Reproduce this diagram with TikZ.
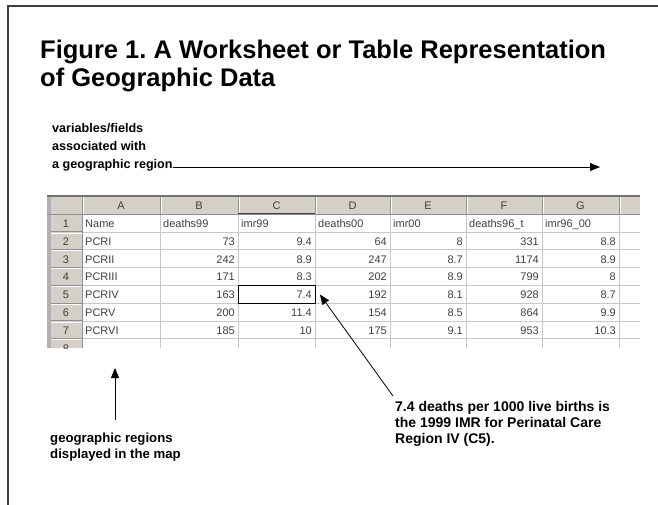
\documentclass[tikz,border=0pt]{standalone}
\usepackage{fontspec}
\setmainfont{Liberation Sans}
\usetikzlibrary{arrows.meta}
\definecolor{hdr}{HTML}{D4D0C8}
\definecolor{gridc}{HTML}{C8C8C8}
\definecolor{hdrline}{HTML}{909090}
\definecolor{celltxt}{HTML}{404040}
\definecolor{framec}{HTML}{404040}
\frenchspacing
\begin{document}
\begin{tikzpicture}[x=1pt,y=-1pt,
  title/.style={anchor=base west, inner sep=0pt, font=\fontsize{25.5}{30}\selectfont\bfseries},
  lbl/.style={anchor=base west, inner sep=0pt, font=\fontsize{12.6}{16}\selectfont\bfseries},
  lblb/.style={anchor=base west, inner sep=0pt, font=\fontsize{13.2}{16}\selectfont\bfseries},
  lblc/.style={anchor=base west, inner sep=0pt, font=\fontsize{14}{16}\selectfont\bfseries},
  cellL/.style={anchor=base west, inner sep=0pt, text=celltxt, font=\fontsize{11}{13}\selectfont},
  cellR/.style={anchor=base east, inner sep=0pt, text=celltxt, font=\fontsize{11}{13}\selectfont},
  hd/.style={anchor=base, inner sep=0pt, text=celltxt, font=\fontsize{11}{13}\selectfont},
  arr/.style={-{Triangle[length=10pt,width=8pt]}, line width=0.8pt},
]
\useasboundingbox (0,0) rectangle (658,504);
\fill[white] (0,0) rectangle (658,504);
% frame
\draw[framec, line width=1.3pt] (8,520) -- (8,6) -- (670,6);
% title
\node[title] (t1) at (40,58) {Figure 1. A Worksheet or Table Representation};
\node[title] (t2) at (40,86) {of Geographic Data};
% top labels
\node[lbl] (v1) at (52,132) {variables/fields};
\node[lbl] (v2) at (52,150) {associated with};
\node[lbl] (v3) at (52,168) {a geographic region};
\coordinate (hend) at (600,0);
\draw[arr] ([yshift=1pt]v3.base east) -- ([yshift=1pt]v3.base east -| hend);
% spreadsheet
\begin{scope}
\clip (47,195) rectangle (640,348);
\fill[white] (82,214) rectangle (640,348);
\fill[hdr] (47,196) rectangle (640,214);
\fill[hdr] (47,214) rectangle (82,348);
\fill[hdrline!70] (47,196) rectangle (51,348);
\foreach \y in {231.8,249.6,267.4,285.2,303,320.8,338.6}
  \draw[gridc, line width=0.6pt] (82,\y) -- (640,\y);
\foreach \x in {160,238,315,390,466,542,619}
  \draw[gridc, line width=0.6pt] (\x,214) -- (\x,348);
\foreach \x in {82,160,238,315,390,466,542,619}
  {\draw[hdrline, line width=0.8pt] (\x,197) -- (\x,214);
   \draw[white, line width=0.6pt] (\x+1,197) -- (\x+1,214);}
\foreach \y in {231.8,249.6,267.4,285.2,303,320.8,338.6}
  {\draw[hdrline, line width=0.8pt] (51,\y) -- (82,\y);
   \draw[white, line width=0.6pt] (51,\y+1) -- (82,\y+1);}
\draw[hdrline, line width=0.8pt] (82,214) -- (82,348);
\draw[hdrline, line width=0.8pt] (47,214) -- (640,214);
\draw[hdrline!80!black, line width=1.2pt] (47,196) -- (640,196);
\draw[celltxt, line width=1.4pt] (238,213.5) -- (315,213.5);
% column headers
\foreach \c/\x [count=\i] in {A/121,B/199,C/276.5,D/352.5,E/428,F/504,G/580.5}
  \node[hd] (h\i) at (\x,209.5) {\c};
% row numbers
\foreach \r [count=\i] in {214,231.8,249.6,267.4,285.2,303,320.8,338.6}
  \node[hd] (n\i) at (66,\r+13.5) {\i};
% row 1
\node[cellL] (a1) at (85,227.5) {Name};
\node[cellL] (b1) at (163,227.5) {deaths99};
\node[cellL] (c1) at (241,227.5) {imr99};
\node[cellL] (d1) at (318,227.5) {deaths00};
\node[cellL] (e1) at (393,227.5) {imr00};
\node[cellL] (f1) at (469,227.5) {deaths96\_t};
\node[cellL] (g1) at (545,227.5) {imr96\_00};
% data rows
\foreach \nm/\b/\c/\d/\e/\f/\g [count=\i from 2] in
  {PCRI/73/9.4/64/8/331/8.8, PCRII/242/8.9/247/8.7/1174/8.9,
   PCRIII/171/8.3/202/8.9/799/8, PCRIV/163/7.4/192/8.1/928/8.7,
   PCRV/200/11.4/154/8.5/864/9.9, PCRVI/185/10/175/9.1/953/10.3}
{
  \pgfmathsetmacro{\yb}{214+17.8*(\i-1)+13.5}
  \node[cellL] (a\i) at (85,\yb) {\nm};
  \node[cellR] (b\i) at (235,\yb) {\b};
  \node[cellR] (c\i) at (312,\yb) {\c};
  \node[cellR] (d\i) at (387,\yb) {\d};
  \node[cellR] (e\i) at (463,\yb) {\e};
  \node[cellR] (f\i) at (539,\yb) {\f};
  \node[cellR] (g\i) at (616,\yb) {\g};
}
\end{scope}
% selected cell C5
\node[draw=black, line width=0.9pt, minimum width=77pt, minimum height=17.8pt, inner sep=0pt, anchor=north west] (c5box) at (238,285.2) {};
% up arrow
\coordinate (u0) at (115,420);
\coordinate (u1) at (115,368);
\draw[arr] (u0) -- (u1);
\node[lblb] (gr1) at (50,442) {geographic regions};
\node[lblb] (gr2) at (50,458) {displayed in the map};
% diagonal arrow
\coordinate (d0) at (393,396);
\draw[arr] (d0) -- ([xshift=4pt]c5box.east);
\node[lblc] (x1) at (395,411) {7.4 deaths per 1000 live births is};
\node[lblc] (x2) at (395,427) {the 1999 IMR for Perinatal Care};
\node[lblc] (x3) at (395,443) {Region IV (C5).};
\end{tikzpicture}
\end{document}
